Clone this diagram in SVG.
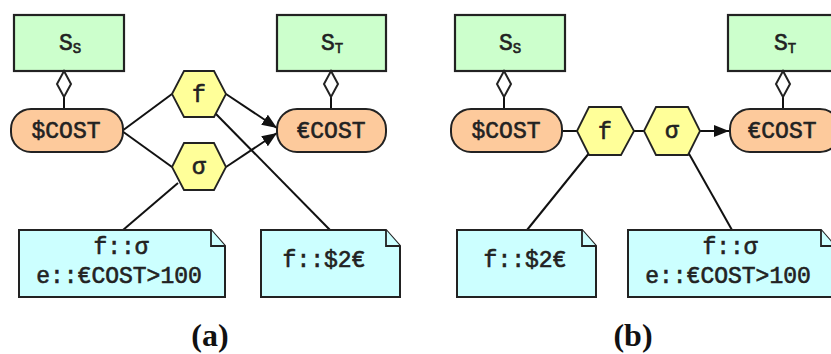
<svg xmlns="http://www.w3.org/2000/svg" width="831" height="354" viewBox="0 0 831 354">
<defs>
<style>
.box{fill:#ccffcc;stroke:#222;stroke-width:2.2}
.pill{fill:#fdca9c;stroke:#222;stroke-width:2}
.hex{fill:#ffff99;stroke:#222;stroke-width:1.8}
.note{fill:#ccffff;stroke:#222;stroke-width:2}
.fold{fill:#ccffff;stroke:#222;stroke-width:1.8}
.dia{fill:#fff;stroke:#222;stroke-width:2}
.ln{fill:none;stroke:#111;stroke-width:2}
.t{font-family:"Liberation Mono","Courier New",monospace;font-weight:normal;font-size:23px;fill:#222;stroke:#222;stroke-width:0.6;text-anchor:middle}
.sub{font-size:14px}
.cap{font-family:"Liberation Serif","Times New Roman",serif;font-weight:bold;font-size:32px;fill:#111;text-anchor:middle}
</style>
<marker id="arr" markerUnits="userSpaceOnUse" markerWidth="16" markerHeight="12" refX="15" refY="6" orient="auto">
<path d="M0,0 L15,6 L0,12 Z" fill="#111"/>
</marker>
</defs>

<g id="connectors">
<line class="ln" x1="64" y1="97" x2="64" y2="109"/>
<line class="ln" x1="331" y1="97" x2="331" y2="109"/>
<line class="ln" x1="122" y1="131" x2="172" y2="94"/>
<line class="ln" x1="122" y1="131" x2="172" y2="167"/>
<line class="ln" x1="226" y1="94" x2="277" y2="128" marker-end="url(#arr)"/>
<line class="ln" x1="226" y1="167" x2="277" y2="133" marker-end="url(#arr)"/>
<line class="ln" x1="215" y1="113" x2="330" y2="230"/>
<line class="ln" x1="178" y1="183" x2="123" y2="230"/>
<line class="ln" x1="504" y1="97" x2="504" y2="109"/>
<line class="ln" x1="783" y1="97" x2="783" y2="109"/>
<line class="ln" x1="562" y1="131" x2="577" y2="131"/>
<line class="ln" x1="634" y1="131" x2="644" y2="131"/>
<line class="ln" x1="700" y1="131" x2="729" y2="131" marker-end="url(#arr)"/>
<line class="ln" x1="590" y1="152" x2="527" y2="230"/>
<line class="ln" x1="688" y1="152" x2="732" y2="230"/>
</g>

<!-- Panel (a) -->
<g id="a-SS">
<rect class="box" x="14" y="15" width="110" height="56"/>
<text class="t" x="70" y="50">S<tspan class="sub" dy="3">S</tspan></text>
<path class="dia" d="M64,71 L71,84 L64,97 L57,84 Z"/>
</g>
<g id="a-ST">
<rect class="box" x="277" y="15" width="109" height="56"/>
<text class="t" x="332" y="50">S<tspan class="sub" dy="3">T</tspan></text>
<path class="dia" d="M331,71 L338,84 L331,97 L324,84 Z"/>
</g>
<g id="a-dcost">
<rect class="pill" x="11" y="109" width="112" height="43" rx="20"/>
<text class="t" x="66" y="138">$COST</text>
</g>
<g id="a-ecost">
<rect class="pill" x="277" y="109" width="109" height="43" rx="20"/>
<text class="t" x="331" y="138">€COST</text>
</g>
<g id="a-f">
<path class="hex" d="M172,94 L184,71 L214,71 L226,94 L214,117 L184,117 Z"/>
<text class="t" x="199" y="102">f</text>
</g>
<g id="a-sigma">
<path class="hex" d="M172,167 L184,143 L214,143 L226,167 L214,190 L184,190 Z"/>
<text class="t" x="199" y="174">σ</text>
</g>
<g id="a-note1">
<path class="note" d="M19,230 L211,230 L225,246 L225,297 L19,297 Z"/>
<path class="fold" d="M211,230 L211,246 L225,246"/>
<text class="t" x="121" y="254">f::σ</text>
<text class="t" x="119" y="283">e::€COST&gt;100</text>
</g>
<g id="a-note2">
<path class="note" d="M261,230 L386,230 L400,246 L400,297 L261,297 Z"/>
<path class="fold" d="M386,230 L386,246 L400,246"/>
<text class="t" x="324" y="267">f::$2€</text>
</g>
<text class="cap" x="210" y="346">(a)</text>

<!-- Panel (b) -->
<g id="b-SS">
<rect class="box" x="455" y="15" width="110" height="56"/>
<text class="t" x="510" y="50">S<tspan class="sub" dy="3">S</tspan></text>
<path class="dia" d="M504,71 L511,84 L504,97 L497,84 Z"/>
</g>
<g id="b-ST">
<rect class="box" x="728" y="15" width="109" height="56"/>
<text class="t" x="785" y="50">S<tspan class="sub" dy="3">T</tspan></text>
<path class="dia" d="M783,71 L790,84 L783,97 L776,84 Z"/>
</g>
<g id="b-dcost">
<rect class="pill" x="451" y="109" width="111" height="43" rx="20"/>
<text class="t" x="506" y="138">$COST</text>
</g>
<g id="b-ecost">
<rect class="pill" x="730" y="109" width="110" height="43" rx="20"/>
<text class="t" x="782" y="138">€COST</text>
</g>
<g id="b-f">
<path class="hex" d="M577,131 L589,107 L621,107 L634,131 L621,155 L589,155 Z"/>
<text class="t" x="605" y="139">f</text>
</g>
<g id="b-sigma">
<path class="hex" d="M644,131 L656,107 L688,107 L700,131 L688,155 L656,155 Z"/>
<text class="t" x="672" y="138">σ</text>
</g>
<g id="b-note1">
<path class="note" d="M457,230 L582,230 L596,246 L596,297 L457,297 Z"/>
<path class="fold" d="M582,230 L582,246 L596,246"/>
<text class="t" x="525" y="267">f::$2€</text>
</g>
<g id="b-note2">
<path class="note" d="M628,230 L821,230 L835,246 L835,297 L628,297 Z"/>
<path class="fold" d="M821,230 L821,246 L835,246"/>
<text class="t" x="730" y="254">f::σ</text>
<text class="t" x="728" y="283">e::€COST&gt;100</text>
</g>
<text class="cap" x="633" y="346">(b)</text>
</svg>
